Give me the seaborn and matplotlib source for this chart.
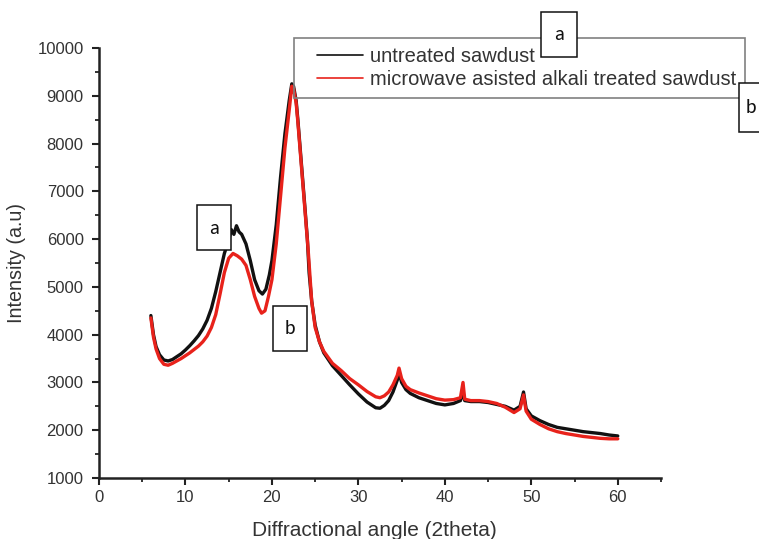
import matplotlib
matplotlib.use("Agg")
import matplotlib.pyplot as plt
from matplotlib.ticker import MultipleLocator
from matplotlib.patches import Rectangle
import seaborn as sns
import pandas as pd

# ---- data ----
angle_untreated = [6.0, 6.3, 6.6, 7.0, 7.5, 8.0, 8.5, 9.0, 9.5, 10.0, 10.5, 11.0, 11.5, 12.0, 12.5,
                   13.0, 13.5, 14.0, 14.5, 15.0, 15.3, 15.6, 15.9, 16.2, 16.5, 17.0, 17.5, 18.0, 18.5,
                   18.9, 19.3, 19.7, 20.0, 20.5, 21.0, 21.5, 22.0, 22.3, 22.5, 22.8, 23.0, 23.4, 23.8,
                   24.1, 24.2, 24.3, 24.6, 25.0, 25.5, 26.0, 27.0, 28.0, 29.0, 30.0, 31.0, 32.0, 32.5,
                   33.0, 33.5, 34.0, 34.5, 34.7, 35.0, 35.5, 36.0, 37.0, 38.0, 39.0, 40.0, 41.0, 41.8,
                   42.1, 42.3, 43.0, 44.0, 45.0, 46.0, 47.0, 48.0, 48.7, 49.1, 49.4, 50.0, 51.0, 52.0,
                   53.0, 54.0, 55.0, 56.0, 57.0, 58.0, 59.0, 60.0]
intensity_untreated = [4400, 4000, 3750, 3580, 3470, 3450, 3480, 3540, 3600, 3680, 3770, 3870, 3980,
                       4120, 4300, 4550, 4900, 5300, 5700, 5980, 6200, 6100, 6280, 6150, 6100, 5900,
                       5550, 5150, 4920, 4850, 4950, 5250, 5550, 6300, 7300, 8200, 8900, 9250, 9200,
                       8900, 8500, 7600, 6700, 6000, 5650, 5300, 4700, 4200, 3850, 3620, 3350, 3150,
                       2950, 2760, 2590, 2470, 2460, 2520, 2620, 2800, 3050, 3200, 3000, 2850, 2770,
                       2680, 2620, 2560, 2530, 2560, 2620, 2800, 2620, 2600, 2600, 2580, 2540, 2500,
                       2420, 2500, 2800, 2450, 2300, 2200, 2120, 2060, 2030, 2000, 1970, 1950, 1930,
                       1900, 1880]

angle_treated = [6.0, 6.3, 6.6, 7.0, 7.5, 8.0, 8.5, 9.0, 9.5, 10.0, 10.5, 11.0, 11.5, 12.0, 12.5,
                 13.0, 13.5, 14.0, 14.5, 15.0, 15.5, 16.0, 16.5, 17.0, 17.5, 18.0, 18.5, 18.8, 19.2,
                 19.6, 20.0, 20.5, 21.0, 21.5, 22.0, 22.3, 22.5, 22.8, 23.0, 23.4, 23.8, 24.2, 24.6,
                 25.0, 25.5, 26.0, 27.0, 28.0, 29.0, 30.0, 31.0, 32.0, 32.5, 33.0, 33.5, 34.0, 34.5,
                 34.7, 35.0, 35.5, 36.0, 37.0, 38.0, 39.0, 40.0, 41.0, 41.8, 42.1, 42.3, 43.0, 44.0,
                 45.0, 46.0, 47.0, 48.0, 48.7, 49.1, 49.4, 50.0, 51.0, 52.0, 53.0, 54.0, 55.0, 56.0,
                 57.0, 58.0, 59.0, 60.0]
intensity_treated = [4350, 3950, 3700, 3500, 3380, 3360, 3400, 3450, 3500, 3560, 3620, 3690, 3760,
                     3850, 3970, 4150, 4420, 4850, 5300, 5600, 5700, 5650, 5580, 5450, 5150, 4800,
                     4550, 4450, 4500, 4800, 5150, 5900, 6900, 7900, 8700, 9200, 9150, 8850, 8450,
                     7550, 6650, 5750, 4700, 4150, 3850, 3650, 3400, 3250, 3080, 2950, 2810, 2700,
                     2680, 2720, 2800, 2950, 3150, 3300, 3080, 2920, 2850, 2780, 2720, 2660, 2630,
                     2640, 2680, 3000, 2650, 2620, 2620, 2600, 2560, 2480, 2370, 2450, 2740, 2400,
                     2230, 2120, 2030, 1970, 1930, 1900, 1870, 1850, 1830, 1820, 1820]

series_names = ["untreated sawdust", "microwave asisted alkali treated sawdust"]
x_ticks = [0, 10, 20, 30, 40, 50, 60]
y_ticks = [1000, 2000, 3000, 4000, 5000, 6000, 7000, 8000, 9000, 10000]
box_labels = ["a", "b", "a", "b"]

df = pd.concat([
    pd.DataFrame({"angle": angle_untreated, "intensity": intensity_untreated, "sample": series_names[0]}),
    pd.DataFrame({"angle": angle_treated, "intensity": intensity_treated, "sample": series_names[1]}),
], ignore_index=True)

sns.set_style("white")
plt.rcParams["font.family"] = ["Liberation Sans", "DejaVu Sans"]

W, H = 759, 539
fig = plt.figure(figsize=(W / 100, H / 100), dpi=100)
ax = fig.add_axes([99 / W, 1 - 478 / H, (661 - 99) / W, (478 - 48) / H])

sns.lineplot(data=df, x="angle", y="intensity", hue="sample", hue_order=series_names,
             palette={series_names[0]: "#111111", series_names[1]: "#e8221b"},
             linewidth=2.4, ax=ax, sort=False, estimator=None)

ax.set_xlim(0, 65)
ax.set_ylim(1000, 10000)
ax.set_xticks(x_ticks)
ax.set_yticks(y_ticks)
ax.xaxis.set_minor_locator(MultipleLocator(5))
ax.yaxis.set_minor_locator(MultipleLocator(500))
for s in ["top", "right"]:
    ax.spines[s].set_visible(False)
for s in ["left", "bottom"]:
    ax.spines[s].set_color("#222222")
    ax.spines[s].set_linewidth(1.8)
ax.tick_params(which="major", direction="out", length=5, width=1.5, color="#222222",
               labelsize=12, labelcolor="#333333", left=True, bottom=True)
ax.tick_params(axis="y", which="major", pad=6)
ax.tick_params(axis="x", which="major", pad=4)
ax.tick_params(which="minor", direction="out", length=3, width=1.3, color="#222222",
               left=True, bottom=True)

ax.set_xlabel("Diffractional angle (2theta)", fontsize=15, color="#333333", labelpad=11)
ax.xaxis.set_label_coords((374 - 99) / (661 - 99), -0.1)
ax.set_ylabel("Intensity (a.u)", fontsize=14.2, color="#333333", labelpad=8)

# legend (frame drawn separately to match the reference's wide box)
handles, labels = ax.get_legend_handles_labels()
leg = ax.legend(handles, labels, loc="upper left",
                bbox_to_anchor=(317 / W, 1 - 47 / H), bbox_transform=fig.transFigure,
                frameon=False, fontsize=14.5, handlelength=2.3, handletextpad=0.33,
                borderpad=0, labelspacing=0.18, borderaxespad=0)
for t in leg.get_texts():
    t.set_color("#333333")
for h in leg.get_lines():
    h.set_linewidth(1.2)
fig.patches.append(Rectangle((294 / W, 1 - 98 / H), (745 - 294) / W, (98 - 38) / H,
                             transform=fig.transFigure, fill=False, edgecolor="#808080",
                             linewidth=1.2, zorder=5))

# labelled boxes (left, top, right, bottom in pixels)
box_px = [(541, 12, 577, 57), (739, 83, 775, 132), (197, 205, 231, 250), (273, 306, 307, 351)]
text_px = [(559, 35), (751, 108), (214, 228), (290, 329)]
for lab, (l, t, r, b), (tx, ty) in zip(box_labels, box_px, text_px):
    fig.patches.append(Rectangle((l / W, 1 - b / H), (r - l) / W, (b - t) / H,
                                 transform=fig.transFigure, facecolor="white",
                                 edgecolor="#111111", linewidth=1.1, zorder=20))
    fig.text(tx / W, 1 - ty / H, lab, ha="center", va="center",
             fontsize=14.5, family=["Carlito", "DejaVu Sans"], color="#111111", zorder=21)

fig.savefig("out.png", dpi=100)
